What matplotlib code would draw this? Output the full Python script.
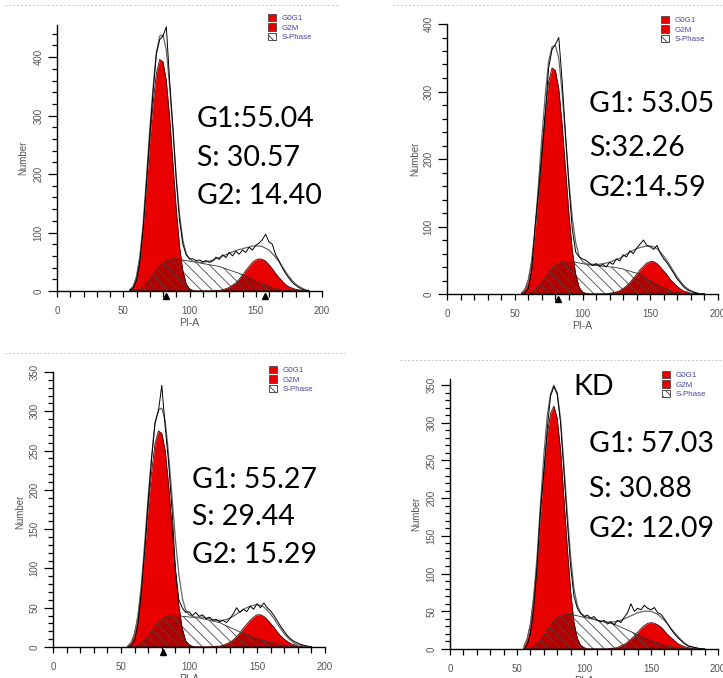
import numpy as np
import matplotlib.pyplot as plt
from matplotlib.patches import Patch
from matplotlib.lines import Line2D

W, H = 723, 678

# PI-A channel grid shared by all four histograms
pi_a = [55, 57.5, 60, 62.5, 65, 67.5, 70, 72.5, 75, 77.5, 80,
        82.5, 85, 87.5, 90, 92.5, 95, 97.5, 100, 102.5, 105, 107.5,
        110, 112.5, 115, 117.5, 120, 122.5, 125, 127.5, 130, 132.5, 135,
        137.5, 140, 142.5, 145, 147.5, 150, 152.5, 155, 157.5, 160, 162.5,
        165, 167.5, 170, 172.5, 175, 177.5, 180, 182.5, 185, 187.5, 190]

# ---- panel 1 (top left)
p1_g0g1 = [2, 8, 24, 56, 108, 180, 256, 320, 372, 396, 392,
           360, 296, 218, 140, 76, 34, 12, 4, 1, 0, 0,
           0, 0, 0, 0, 0, 0, 0, 0, 0, 0, 0,
           0, 0, 0, 0, 0, 0, 0, 0, 0, 0, 0,
           0, 0, 0, 0, 0, 0, 0, 0, 0, 0, 0]
p1_s = [0, 0, 1, 3, 7, 13, 20, 28, 36, 43, 48,
        52, 54, 55, 55, 54, 53, 52, 51, 50, 49, 48,
        47, 46, 45, 44, 43, 42, 40, 38, 36, 34, 32,
        30, 28, 26, 23, 20, 17, 14, 12, 10, 8, 6,
        4, 3, 2, 1, 1, 0, 0, 0, 0, 0, 0]
p1_g2m = [0, 0, 0, 0, 0, 0, 0, 0, 0, 0, 0,
          0, 0, 0, 0, 0, 0, 0, 0, 0, 0, 0,
          0, 0, 0, 0, 1, 1, 2, 4, 6, 10, 14,
          20, 27, 35, 42, 49, 53, 55, 54, 51, 45, 38,
          30, 23, 17, 11, 7, 5, 3, 2, 1, 0, 0]
p1_fit = [2, 8, 25, 59, 115, 193, 276, 348, 408, 436, 438,
          412, 350, 273, 195, 130, 87, 64, 55, 51, 50, 49,
          49, 50, 51, 53, 55, 57, 60, 62, 65, 67, 69,
          71, 72, 74, 75, 77, 77, 77, 76, 73, 70, 64,
          58, 50, 42, 33, 25, 18, 12, 8, 5, 2, 1]
p1_raw = [1, 5, 18, 50, 105, 185, 265, 340, 405, 430, 436,
          452, 360, 280, 190, 120, 80, 62, 55, 55, 52, 53,
          50, 52, 49, 51, 58, 54, 62, 57, 66, 60, 68,
          63, 70, 66, 75, 70, 78, 82, 88, 97, 84, 80,
          62, 52, 40, 30, 22, 15, 10, 6, 3, 1, 0]

# ---- panel 2 (top right)
p2_g0g1 = [2, 7, 20, 47, 91, 152, 216, 270, 314, 335, 331,
           304, 250, 184, 118, 64, 29, 10, 3, 1, 0, 0,
           0, 0, 0, 0, 0, 0, 0, 0, 0, 0, 0,
           0, 0, 0, 0, 0, 0, 0, 0, 0, 0, 0,
           0, 0, 0, 0, 0, 0, 0, 0, 0, 0, 0]
p2_s = [0, 0, 1, 3, 6, 11, 17, 24, 31, 37, 42,
        45, 47, 48, 48, 48, 47, 46, 45, 44, 43, 43,
        42, 42, 41, 41, 40, 40, 39, 38, 37, 35, 34,
        32, 31, 29, 26, 23, 20, 17, 14, 11, 9, 7,
        5, 3, 2, 1, 1, 0, 0, 0, 0, 0, 0]
p2_g2m = [0, 0, 0, 0, 0, 0, 0, 0, 0, 0, 0,
          0, 0, 0, 0, 0, 0, 0, 0, 0, 0, 0,
          0, 0, 0, 0, 1, 2, 3, 5, 8, 12, 17,
          23, 29, 36, 41, 46, 48, 48, 45, 40, 34, 28,
          21, 16, 11, 7, 4, 3, 1, 1, 0, 0, 0]
p2_fit = [2, 7, 21, 50, 97, 163, 233, 294, 345, 366, 368,
          349, 297, 232, 166, 112, 76, 56, 48, 45, 44, 44,
          44, 44, 45, 46, 47, 49, 51, 53, 56, 59, 62,
          65, 67, 69, 70, 71, 71, 70, 67, 62, 56, 49,
          41, 33, 25, 18, 12, 8, 5, 3, 1, 0, 0]
p2_raw = [0, 2, 8, 35, 100, 150, 205, 265, 335, 362, 370,
          380, 315, 235, 160, 95, 62, 55, 52, 50, 46, 42,
          45, 41, 44, 40, 47, 44, 52, 49, 58, 55, 64,
          60, 68, 74, 80, 72, 70, 66, 72, 60, 52, 46,
          38, 30, 22, 16, 10, 6, 4, 2, 1, 0, 0]

# ---- panel 3 (bottom left)
p3_g0g1 = [1, 6, 17, 39, 75, 125, 178, 222, 259, 275, 272,
           250, 206, 152, 97, 53, 24, 8, 3, 1, 0, 0,
           0, 0, 0, 0, 0, 0, 0, 0, 0, 0, 0,
           0, 0, 0, 0, 0, 0, 0, 0, 0, 0, 0,
           0, 0, 0, 0, 0, 0, 0, 0, 0, 0, 0]
p3_s = [0, 0, 0, 2, 5, 9, 14, 20, 26, 31, 35,
        38, 39, 40, 40, 40, 39, 39, 38, 38, 37, 37,
        36, 35, 34, 33, 32, 31, 29, 27, 25, 23, 21,
        19, 18, 16, 14, 12, 11, 9, 8, 7, 6, 5,
        4, 3, 2, 1, 1, 0, 0, 0, 0, 0, 0]
p3_g2m = [0, 0, 0, 0, 0, 0, 0, 0, 0, 0, 0,
          0, 0, 0, 0, 0, 0, 0, 0, 0, 0, 0,
          0, 0, 0, 0, 1, 1, 2, 4, 6, 9, 13,
          18, 24, 29, 34, 38, 41, 41, 39, 35, 30, 25,
          19, 14, 10, 7, 4, 3, 1, 1, 0, 0, 0]
p3_fit = [1, 6, 17, 41, 80, 134, 192, 242, 285, 302, 304,
          288, 245, 192, 137, 93, 63, 47, 41, 39, 38, 38,
          38, 37, 36, 35, 34, 34, 34, 35, 37, 39, 42,
          45, 48, 50, 52, 53, 54, 53, 51, 47, 42, 36,
          29, 23, 17, 12, 8, 5, 3, 2, 1, 0, 0]
p3_raw = [0, 2, 8, 30, 70, 125, 185, 240, 285, 300, 333,
          280, 235, 175, 100, 60, 50, 44, 45, 40, 44, 39,
          41, 36, 38, 34, 35, 32, 34, 31, 36, 42, 50,
          44, 48, 45, 52, 48, 55, 50, 56, 50, 46, 40,
          33, 26, 20, 14, 10, 7, 5, 3, 2, 1, 0]

# ---- panel 4 (bottom right, KD)
p4_g0g1 = [3, 13, 32, 68, 116, 180, 238, 283, 312, 322, 306,
           264, 200, 135, 77, 35, 14, 5, 2, 0, 0, 0,
           0, 0, 0, 0, 0, 0, 0, 0, 0, 0, 0,
           0, 0, 0, 0, 0, 0, 0, 0, 0, 0, 0,
           0, 0, 0, 0, 0, 0, 0, 0, 0, 0, 0]
p4_s = [0, 0, 1, 3, 7, 12, 18, 25, 31, 37, 41,
        44, 45, 46, 46, 45, 44, 43, 42, 41, 40, 39,
        38, 37, 36, 35, 34, 33, 31, 29, 27, 25, 23,
        21, 19, 17, 15, 13, 11, 9, 8, 6, 5, 4,
        3, 2, 1, 1, 0, 0, 0, 0, 0, 0, 0]
p4_g2m = [0, 0, 0, 0, 0, 0, 0, 0, 0, 0, 0,
          0, 0, 0, 0, 0, 0, 0, 0, 0, 0, 0,
          0, 0, 0, 0, 1, 1, 2, 4, 6, 9, 13,
          17, 22, 27, 31, 34, 35, 34, 32, 29, 24, 19,
          15, 11, 7, 5, 3, 2, 1, 0, 0, 0, 0]
p4_fit = [3, 13, 33, 71, 123, 192, 256, 308, 338, 350, 340,
          305, 245, 181, 123, 80, 58, 48, 44, 42, 41, 40,
          38, 37, 36, 36, 36, 36, 37, 38, 40, 42, 44,
          46, 48, 49, 50, 50, 50, 48, 46, 42, 38, 33,
          27, 22, 17, 12, 8, 5, 3, 2, 1, 0, 0]
p4_raw = [0, 5, 20, 55, 110, 185, 232, 290, 335, 348, 338,
          300, 235, 170, 110, 70, 54, 47, 43, 45, 41, 43,
          38, 36, 38, 33, 36, 32, 38, 35, 42, 48, 60,
          50, 54, 52, 58, 54, 52, 55, 48, 46, 40, 33,
          26, 20, 15, 11, 7, 4, 3, 2, 1, 0, 0]

# peak markers on the PI-A axis
p1_marks = [82, 157]
p2_marks = [82]
p3_marks = [81]
p4_marks = []

p1_stats = ["G1:55.04", "S: 30.57", "G2: 14.40"]
p2_stats = ["G1: 53.05", "S:32.26", "G2:14.59"]
p3_stats = ["G1: 55.27", "S: 29.44", "G2: 15.29"]
p4_stats = ["G1: 57.03", "S: 30.88", "G2: 12.09"]

legend_labels = ["G0G1", "G2M", "S-Phase"]

RED = "#e80000"
DARKRED = "#b30000"
GREY = "#555555"

plt.rcParams["font.family"] = ["Liberation Sans", "DejaVu Sans"]
plt.rcParams["hatch.linewidth"] = 0.6

fig = plt.figure(figsize=(W / 100, H / 100), dpi=100)
fig.patch.set_facecolor("white")


def px_axes(left, top, right, bottom):
    return fig.add_axes([left / W, 1 - bottom / H, (right - left) / W, (bottom - top) / H])


def draw_panel(ax, g0g1, s, g2m, fit, raw, marks, ymax, major, minor):
    x = np.array(pi_a, dtype=float)
    g0g1 = np.array(g0g1, dtype=float)
    s = np.array(s, dtype=float)
    g2m = np.array(g2m, dtype=float)

    ax.fill_between(x, 0, g0g1, color=RED, lw=0)
    ax.fill_between(x, 0, g2m, color=RED, lw=0)
    # S-phase overlapping the red peaks shows darker
    ax.fill_between(x, 0, np.minimum(s, g0g1 + g2m), color=DARKRED, lw=0)
    ax.fill_between(x, 0, s, facecolor="none", edgecolor="#4a4a4a",
                    hatch="\\\\\\", lw=0)
    ax.plot(x, g0g1, color="#400000", lw=0.6)
    ax.plot(x, g2m, color="#400000", lw=0.6)
    ax.plot(x, s, color="#333333", lw=0.6)
    ax.plot(x, fit, color="#666666", lw=0.9)
    ax.plot(x, raw, color="black", lw=0.7)

    if marks:
        ax.plot(marks, [-0.017] * len(marks), marker="^", ls="none", ms=5,
                color="black", transform=ax.get_xaxis_transform(), clip_on=False)

    ax.set_xlim(0, 200)
    ax.set_ylim(0, ymax)
    ax.set_xticks([0, 50, 100, 150, 200])
    ax.set_xticks(np.arange(0, 201, 10), minor=True)
    ax.set_yticks(np.arange(0, ymax + 1, major))
    ax.set_yticks(np.arange(0, ymax + 1, minor), minor=True)
    for side in ["top", "right"]:
        ax.spines[side].set_visible(False)
    for side in ["left", "bottom"]:
        ax.spines[side].set_linewidth(1.0)
    ax.tick_params(axis="x", which="major", direction="out", length=4.5, width=0.9,
                   labelsize=7, labelcolor=GREY, pad=6)
    ax.tick_params(axis="x", which="minor", direction="out", length=4, width=0.9)
    ax.tick_params(axis="y", which="major", direction="out", length=6.5, width=0.9,
                   labelsize=7, labelcolor=GREY, pad=3, labelrotation=90)
    ax.tick_params(axis="y", which="minor", direction="out", length=3.5, width=0.9)
    for lab in ax.get_yticklabels():
        lab.set_va("center")
    ax.patch.set_alpha(0)


def add_legend(ax, left, top):
    handles = [Patch(facecolor=RED, edgecolor="#333333", lw=0.5),
               Patch(facecolor=RED, edgecolor="#333333", lw=0.5),
               Patch(facecolor="white", edgecolor="#333333", hatch="\\\\\\\\", lw=0.6)]
    ax.legend(handles, legend_labels, loc="upper left",
              bbox_to_anchor=(left / W, 1 - top / H), bbox_transform=fig.transFigure,
              frameon=False, fontsize=5.8, labelcolor="#4646a8",
              handlelength=1.05, handleheight=1.05, handletextpad=0.6,
              labelspacing=0.12, borderpad=0, borderaxespad=0)


def add_stats(lines, left, baselines):
    for line, y in zip(lines, baselines):
        fig.text(left / W, 1 - y / H, line, fontsize=20.5, family="Lato",
                 va="baseline", ha="left", color="black")


def top_rule(x0, x1, y):
    fig.add_artist(Line2D([x0 / W, x1 / W], [1 - y / H, 1 - y / H],
                          transform=fig.transFigure, color="#c8c8c8",
                          lw=0.7, ls=(0, (2, 2))))


panels = [
    dict(box=(57, 25, 322, 291), data=(p1_g0g1, p1_s, p1_g2m, p1_fit, p1_raw),
         marks=p1_marks, ymax=455, major=100, minor=20,
         leg=(268, 14), stats=p1_stats, sx=197, sy=(127, 166, 204),
         ylab=(-0.11, 0.5), rule=(5, 340, 5)),
    dict(box=(447, 24, 718, 294), data=(p2_g0g1, p2_s, p2_g2m, p2_fit, p2_raw),
         marks=p2_marks, ymax=400, major=100, minor=20,
         leg=(661, 16), stats=p2_stats, sx=589, sy=(112, 156, 196),
         ylab=(-0.10, 0.5), rule=(393, 723, 5)),
    dict(box=(53, 372, 325, 647), data=(p3_g0g1, p3_s, p3_g2m, p3_fit, p3_raw),
         marks=p3_marks, ymax=350, major=50, minor=10,
         leg=(269, 366), stats=p3_stats, sx=192, sy=(488, 525, 563),
         ylab=(-0.103, 0.49), rule=(5, 345, 353)),
    dict(box=(450, 379, 718, 649), data=(p4_g0g1, p4_s, p4_g2m, p4_fit, p4_raw),
         marks=p4_marks, ymax=358, major=50, minor=10,
         leg=(662, 371), stats=p4_stats, sx=589, sy=(452, 497, 537),
         ylab=(-0.108, 0.5), rule=(400, 723, 360)),
]

for p in panels:
    ax = px_axes(*p["box"])
    draw_panel(ax, *p["data"], p["marks"], p["ymax"], p["major"], p["minor"])
    ax.set_ylabel("Number", fontsize=7, color=GREY)
    ax.yaxis.set_label_coords(*p["ylab"])
    ax.set_xlabel("PI-A", fontsize=7.5, color=GREY)
    ax.xaxis.set_label_coords(0.5, -0.1)
    add_legend(ax, *p["leg"])
    add_stats(p["stats"], p["sx"], p["sy"])
    top_rule(*p["rule"])

fig.text(573 / W, 1 - 395 / H, "KD", fontsize=20.5, family="Lato",
         va="baseline", ha="left", color="black")

fig.savefig("out.png", dpi=100, facecolor="white")
